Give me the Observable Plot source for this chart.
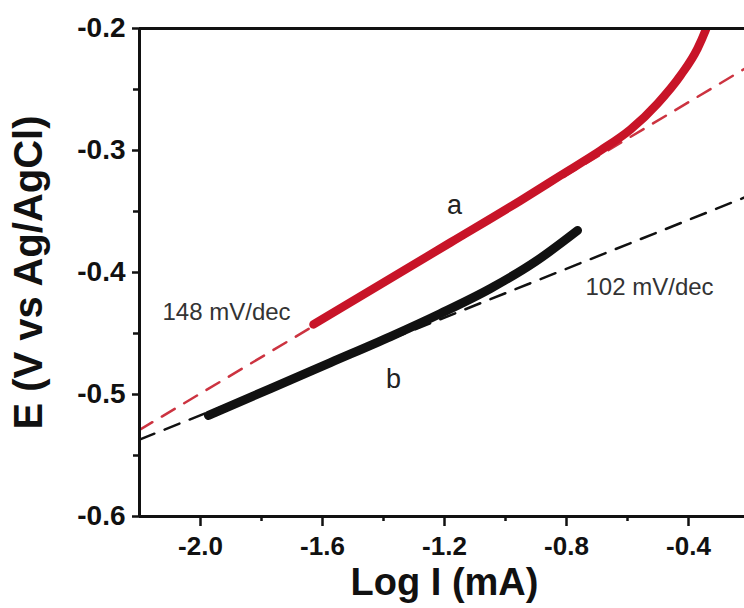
<!DOCTYPE html>
<html><head><meta charset="utf-8">
<script src="https://cdn.jsdelivr.net/npm/d3@7"></script>
<script src="https://cdn.jsdelivr.net/npm/@observablehq/plot@0.6"></script>
<style>body{margin:0;background:#fff}#chart svg{display:block;background:#fff}</style>
</head><body><div id="chart"></div>
<script>
// Curve a (red) : Log I (mA) vs E
const aLogI = [-1.6295, -1.4098, -1.1803, -0.9508, -0.8197, -0.6885, -0.5902, -0.5016, -0.4262, -0.3705, -0.3443, -0.3344];
const aE    = [-0.4426, -0.4098, -0.3754, -0.3410, -0.3205, -0.3000, -0.2828, -0.2615, -0.2385, -0.2164, -0.2016, -0.1951];
// Curve b (black)
const bLogI = [-1.9738, -1.7705, -1.5738, -1.3770, -1.2131, -1.0492, -0.9016, -0.7639];
const bE    = [-0.5172, -0.4951, -0.4738, -0.4525, -0.4336, -0.4131, -0.3910, -0.3656];
// Tafel fit lines (dashed)
const fitLogI = [-2.2, -0.216];
const fitA_E  = [-0.529, -0.233];
const fitB_E  = [-0.537, -0.3385];
// Ticks
const xTicks = [-2.0, -1.6, -1.2, -0.8, -0.4];
const xMinor = [-1.8, -1.4, -1.0, -0.6];
const yTicks = [-0.2, -0.3, -0.4, -0.5, -0.6];
const yMinor = [-0.25, -0.35, -0.45, -0.55];
// Annotations
const curveLabels = ["a", "b"];
const curveLabelX = [-1.167, -1.367];
const curveLabelY = [-0.345, -0.4877];
const slopeLabels = ["148 mV/dec", "102 mV/dec"];
const slopeLabelX = [-2.1246, -0.7377];
const slopeLabelY = [-0.4328, -0.4123];

const RED = "#c81428";
const zip = (xs, ys) => xs.map((x, i) => ({x, y: ys[i]}));
const curveA = zip(aLogI, aE);
const curveB = zip(bLogI, bE);
const fitA = zip(fitLogI, fitA_E);
const fitB = zip(fitLogI, fitB_E);
const cLab = curveLabels.map((t, i) => ({t, x: curveLabelX[i], y: curveLabelY[i]}));
const sLab = slopeLabels.map((t, i) => ({t, x: slopeLabelX[i], y: slopeLabelY[i]}));

const FONT = "Liberation Sans, Arial, sans-serif";

const chart = Plot.plot({
  width: 744,
  height: 608,
  marginLeft: 139,
  marginRight: 0,
  marginTop: 28,
  marginBottom: 92,
  style: {fontFamily: FONT, background: "#fff", color: "#111"},
  x: {domain: [-2.2, -0.2164], label: null},
  y: {domain: [-0.6, -0.2], label: null},
  marks: [
    Plot.line(fitA, {x: "x", y: "y", stroke: "#cc3340", strokeWidth: 2.5, strokeDasharray: "15,11", clip: true}),
    Plot.line(fitB, {x: "x", y: "y", stroke: "#111", strokeWidth: 2.5, strokeDasharray: "16,11", clip: true}),
    Plot.line(curveA, {x: "x", y: "y", stroke: RED, strokeWidth: 8.5, curve: "monotone-x", clip: true}),
    Plot.line(curveB, {x: "x", y: "y", stroke: "#111", strokeWidth: 9, curve: "monotone-x", clip: true}),
    Plot.ruleX([-2.2], {stroke: "#111", strokeWidth: 3}),
    Plot.ruleY([-0.6], {stroke: "#111", strokeWidth: 3}),
    Plot.ruleY([-0.2], {stroke: "#111", strokeWidth: 3}),
    Plot.axisX(xTicks, {tickSize: 10, tickPadding: 10, strokeWidth: 2.5, tickFormat: d => d.toFixed(1), fontSize: 26, fontWeight: "bold", fill: "#111", label: null}),
    Plot.axisX(xMinor, {tickSize: 5, strokeWidth: 2.5, fill: "none", label: null}),
    Plot.axisY(yTicks, {tickSize: 7, tickPadding: 7, strokeWidth: 2.5, tickFormat: d => d.toFixed(1), fontSize: 28, fontWeight: "bold", fill: "#111", label: null}),
    Plot.axisY(yMinor, {tickSize: 6, strokeWidth: 2.5, fill: "none", label: null}),
    Plot.text(cLab, {x: "x", y: "y", text: "t", fontSize: 27, fill: "#222", textAnchor: "middle"}),
    Plot.text(sLab, {x: "x", y: "y", text: "t", fontSize: 24, fill: "#333", textAnchor: "start"}),
    Plot.text(["Log I (mA)"], {frameAnchor: "bottom", dx: 2.5, dy: 78, text: d => d, fontSize: 38, fontWeight: "bold", fill: "#111"}),
    Plot.text(["E (V vs Ag/AgCl)"], {frameAnchor: "left", dx: -110, text: d => d, rotate: -90, textAnchor: "middle", fontSize: 40, fontWeight: "bold", fill: "#111"})
  ]
});
document.getElementById("chart").appendChild(chart);
</script>
</body></html>
